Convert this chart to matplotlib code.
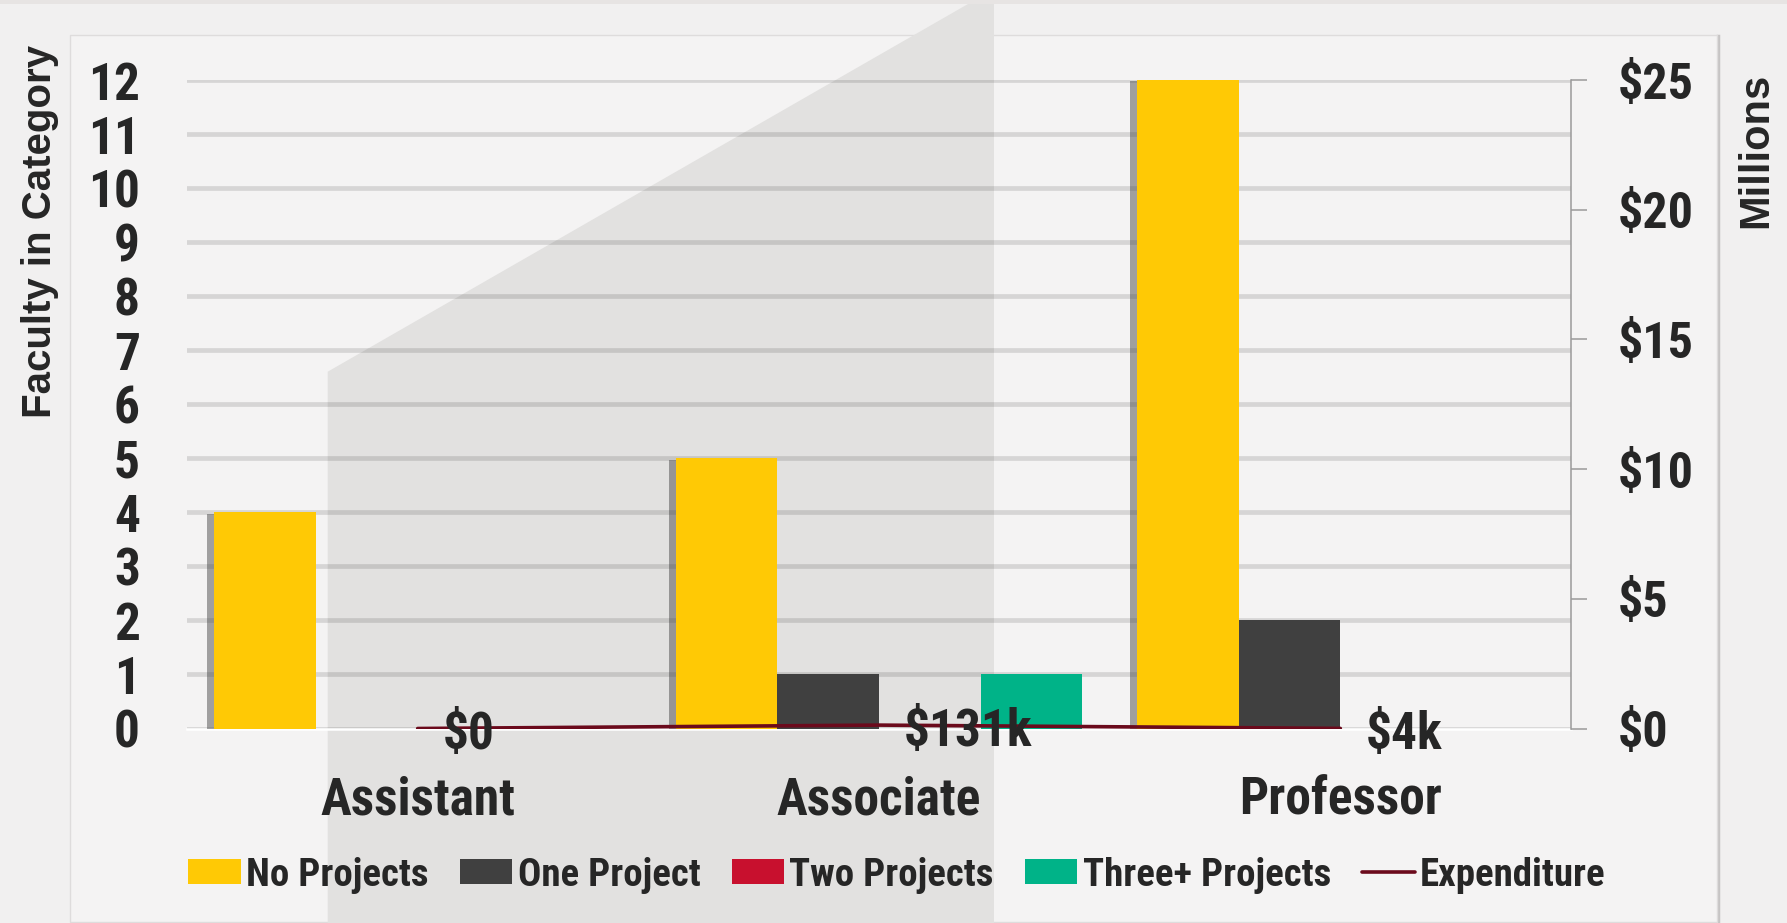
import matplotlib
matplotlib.use("Agg")
import matplotlib.pyplot as plt
import matplotlib.patheffects as pe
from matplotlib import font_manager
from matplotlib.patches import Rectangle, Polygon
from matplotlib.lines import Line2D
import numpy as np

# data
ranks = ["Assistant", "Associate", "Professor"]
no_projects = [4, 5, 12]
one_project = [0, 1, 2]
two_projects = [0, 0, 0]
three_plus = [0, 1, 0]
expenditure_m = [0.0, 0.131, 0.004]  # millions of dollars
exp_labels = ["$0", "$131k", "$4k"]
series_names = ["No Projects", "One Project", "Two Projects", "Three+ Projects"]
colors = ["#FFC905", "#404040", "#C8102E", "#00B388"]
line_color = "#6B0A1C"
text_color = "#262626"


def pick(*names):
    for n in names:
        try:
            font_manager.findfont(n, fallback_to_default=False)
            return n
        except ValueError:
            pass
    return "DejaVu Sans"


NARROW = pick("Liberation Sans Narrow", "Roboto Condensed", "Liberation Sans")
WIDE = pick("Liberation Sans", "DejaVu Sans")
plt.rcParams["font.family"] = [NARROW, "DejaVu Sans"]
plt.rcParams["font.weight"] = "bold"

W, H, DPI = 1787, 923, 100
fig = plt.figure(figsize=(W / DPI, H / DPI), dpi=DPI, facecolor="#f1f0f0")


def fx(x):
    return x / W


def fy(y):
    return 1 - y / H


# background decoration
fig.patches.append(Rectangle((0, fy(4)), 1, 4 / H, transform=fig.transFigure,
                             fc="#e7e4e3", ec="none", zorder=-3))
fig.patches.append(Rectangle((fx(70), fy(922)), (1717 - 70) / W, (922 - 35) / H,
                             transform=fig.transFigure, fc="#f4f3f3", ec="#dedcdc",
                             lw=1, zorder=-3))
fig.lines.append(Line2D([fx(1718), fx(1718)], [fy(36), fy(922)], transform=fig.transFigure,
                        color="#c6c4c4", lw=2.5, zorder=-3))
fig.patches.append(Polygon([(fx(327.7), fy(923)), (fx(327.7), fy(371.7)), (fx(968), fy(4)),
                            (fx(994), fy(4)), (fx(994), fy(923))],
                           closed=True, transform=fig.transFigure,
                           fc="#e2e1e0", ec="none", zorder=-2))

ax = fig.add_axes([fx(187), fy(728.5), (1571 - 187) / W, (728.5 - 80) / H])
ax.set_facecolor("none")

x = np.arange(len(ranks))
w = 0.2203
all_series = [no_projects, one_project, two_projects, three_plus]
handles = []
for i, (vals, name, c) in enumerate(zip(all_series, series_names, colors)):
    bars = ax.bar(x + (i - 1.5) * w, vals, w, color=c, label=name, zorder=3)
    if i == 0:
        for b in bars:
            b.set_path_effects([pe.SimplePatchShadow(offset=(-5, -1), shadow_rgbFace="#3a3a3a",
                                                     alpha=0.45), pe.Normal()])
    handles.append(bars)

ax.set_xlim(-0.5, 2.5)
ax.set_ylim(0, 12)
ax.set_yticks(range(13))
ax.tick_params(axis="y", length=0, pad=34, labelsize=37, labelcolor=text_color)
ax.set_xticks(x, ranks)
ax.tick_params(axis="x", length=0, pad=34, labelsize=37, labelcolor=text_color)
for s in ["left", "top", "right"]:
    ax.spines[s].set_visible(False)
ax.spines["bottom"].set_color("white")
ax.spines["bottom"].set_linewidth(1.8)
ax.spines["bottom"].set_zorder(2.5)
ax.set_axisbelow(True)
ax.yaxis.grid(True, color="black", alpha=0.12, lw=3.4)

ax2 = ax.twinx()
ax2.set_ylim(0, 25)
ax2.set_yticks(range(0, 26, 5), [f"${v}" for v in range(0, 26, 5)])
line, = ax2.plot(x, expenditure_m, color=line_color, lw=2.6, zorder=4,
                 label="Expenditure", solid_capstyle="round")
for s in ["left", "top", "bottom"]:
    ax2.spines[s].set_visible(False)
ax2.spines["right"].set_color("#9a9a9a")
ax2.spines["right"].set_linewidth(1.1)
ax2.tick_params(axis="y", length=11.5, width=1.1, color="#9a9a9a", pad=22,
                labelsize=36, labelcolor=text_color)

for xi, v, lbl in zip(x, expenditure_m, exp_labels):
    ax2.annotate(lbl, (xi, v), xytext=(18, -5), textcoords="offset points",
                 ha="left", va="center", fontsize=37, color=text_color, zorder=5)

handles.append(line)
leg = fig.legend(handles, series_names + ["Expenditure"], loc="center",
                 bbox_to_anchor=(fx(897), fy(875)), ncol=5, frameon=False, fontsize=28,
                 handlelength=1.35, handleheight=0.6, handletextpad=0.14, columnspacing=0.8,
                 labelcolor=text_color)
for p in leg.get_patches():
    p.set_path_effects([])

fig.text(fx(40), fy(232), "Faculty in Category", rotation=90, ha="center", va="center",
         fontsize=29, family=[WIDE, "DejaVu Sans"], weight="bold", color=text_color)
fig.text(fx(1756), fy(150), "Millions", rotation=90, ha="center", va="center",
         fontsize=30, family=[WIDE, "DejaVu Sans"], weight="bold", color=text_color)

fig.savefig("out.png", dpi=DPI, facecolor=fig.get_facecolor())
